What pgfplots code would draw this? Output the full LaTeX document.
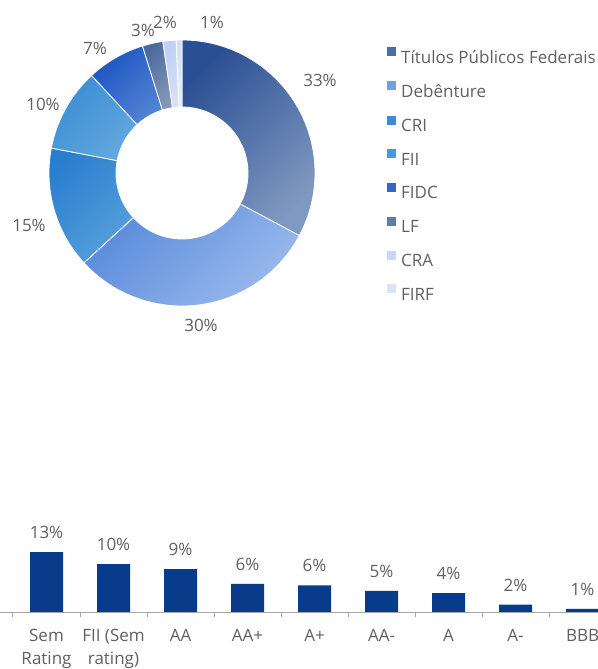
\documentclass[border=0pt]{standalone}
\usepackage{pgfplots}
\pgfplotsset{compat=1.18}
\usepackage{pgfplotstable}
\usepackage{fontspec}
\setmainfont{Open Sans}

\definecolor{txt}{HTML}{606060}
\definecolor{axgray}{HTML}{A6A6A6}
\definecolor{barblue}{HTML}{083B8A}
% donut slices: dark / light end of each gradient
\definecolor{c0a}{HTML}{2B4F94}\definecolor{c0b}{HTML}{8099C0}
\definecolor{c1a}{HTML}{5A8BDB}\definecolor{c1b}{HTML}{9ABAED}
\definecolor{c2a}{HTML}{2A7ECF}\definecolor{c2b}{HTML}{56A0DB}
\definecolor{c3a}{HTML}{3A8DD4}\definecolor{c3b}{HTML}{62A8DD}
\definecolor{c4a}{HTML}{1C55C2}\definecolor{c4b}{HTML}{5283D2}
\definecolor{c5a}{HTML}{4A6A9E}\definecolor{c5b}{HTML}{8496B5}
\definecolor{c6a}{HTML}{BFD0F3}\definecolor{c6b}{HTML}{D5E1F8}
\definecolor{c7a}{HTML}{D3DFF6}\definecolor{c7b}{HTML}{E3EBFA}
\colorlet{c0m}{c0a!60!c0b}\colorlet{c1m}{c1a!60!c1b}
\colorlet{c2m}{c2a!60!c2b}\colorlet{c3m}{c3a!60!c3b}
\colorlet{c4m}{c4a!60!c4b}\colorlet{c5m}{c5a!60!c5b}
\colorlet{c6m}{c6a!60!c6b}\colorlet{c7m}{c7a!60!c7b}

\newcommand\lblfont{\fontsize{17bp}{20bp}\selectfont}
\newcommand\tickfont{\fontsize{17bp}{23bp}\selectfont}

% share (%), label, label position
\pgfplotstableread{
val  lab lx  ly
32.8 33  320 589
30.4 30  201 344
14.8 15  29  444
10.1 10  43  565
7.1  7   95  621
2.5  3   143 639
1.6  2   165 647
0.7  1   212 647
}\donut

\begin{document}
\begin{tikzpicture}
\begin{axis}[
    at={(0bp,0bp)}, anchor=south west,
    scale only axis, x=1bp, y=1bp,
    xmin=0, xmax=598, ymin=0, ymax=669,
    hide axis, clip=false,
    legend style={at={(axis cs:387,622)}, anchor=north west, draw=none, fill=none,
        inner sep=0pt, row sep=16.4bp, column sep=5bp, font=\lblfont, text=txt,
        nodes={inner sep=0pt, anchor=west}},
    legend cell align=left,
    legend image code/.code={\fill[draw=none,#1] (0bp,1.5bp) rectangle (9bp,10.5bp);},
]
\def\cum{0}
\pgfplotsforeachungrouped \i in {0,...,7}{%
  \pgfplotstablegetelem{\i}{val}\of\donut \let\v\pgfplotsretval
  \pgfplotstablegetelem{\i}{lab}\of\donut \let\lab\pgfplotsretval
  \pgfplotstablegetelem{\i}{lx}\of\donut \let\lx\pgfplotsretval
  \pgfplotstablegetelem{\i}{ly}\of\donut \let\ly\pgfplotsretval
  \pgfmathsetmacro\a{90-3.6*\cum}
  \pgfmathsetmacro\cum{\cum+\v}
  \pgfmathsetmacro\b{90-3.6*\cum}
  \pgfmathsetmacro\xa{182+133*cos(\a)}\pgfmathsetmacro\ya{496+133*sin(\a)}
  \pgfmathsetmacro\xb{182+66*cos(\b)}\pgfmathsetmacro\yb{496+66*sin(\b)}
  \edef\temp{%
    \noexpand\shadedraw[draw=white, line width=0.8bp, top color=c\i a, bottom color=c\i b, shading angle=45]
      (axis cs:\xa,\ya) arc[start angle=\a, end angle=\b, radius=133bp]
      -- (axis cs:\xb,\yb) arc[start angle=\b, end angle=\a, radius=66bp] -- cycle;
    \noexpand\node[text=txt, font=\noexpand\lblfont] at (axis cs:\lx,\ly) {\lab\noexpand\%};
  }\temp
}
\addlegendimage{fill=c0m, draw=none}\addlegendentry{Títulos Públicos Federais}
\addlegendimage{fill=c1m, draw=none}\addlegendentry{Debênture}
\addlegendimage{fill=c2m, draw=none}\addlegendentry{CRI}
\addlegendimage{fill=c3m, draw=none}\addlegendentry{FII}
\addlegendimage{fill=c4m, draw=none}\addlegendentry{FIDC}
\addlegendimage{fill=c5m, draw=none}\addlegendentry{LF}
\addlegendimage{fill=c6m, draw=none}\addlegendentry{CRA}
\addlegendimage{fill=c7m, draw=none}\addlegendentry{FIRF}
\end{axis}

\begin{axis}[
    at={(0bp,57bp)}, anchor=south west,
    scale only axis, width=598bp, height=73.6bp,
    xmin=-0.694, xmax=8.231, ymin=0, ymax=16,
    ybar, bar width=33bp, bar shift=0pt,
    axis x line*=bottom, axis y line=none,
    x axis line style={axgray, line width=1bp, -},
    xtick={0,...,8},
    xticklabels={Sem\\Rating, FII (Sem\\rating), AA, AA+, A+, AA-, A, A-, BBB},
    major tick length=0pt,
    xticklabel style={font=\tickfont, text=txt, align=center, anchor=north, yshift=-14bp},
    extra x ticks={-0.5,0.5,...,7.5},
    extra x tick labels={},
    extra x tick style={major tick length=5bp, tick align=outside,
        tick style={axgray, line width=1bp}},
    /pgf/number format/assume math mode=true,
    nodes near coords={\pgfmathprintnumber[fixed,precision=0]{\pgfplotspointmeta}\%},
    every node near coord/.append style={font=\lblfont, text=txt, anchor=south,
        inner sep=0pt, yshift=13bp},
]
\addplot[fill=barblue, draw=none] coordinates {
    (0,13.0) (1,10.4) (2,9.3) (3,6.1) (4,5.8) (5,4.6) (6,4.1) (7,1.6) (8,0.7)
};
\end{axis}
\pgfresetboundingbox
\useasboundingbox (0,0) rectangle (598bp,669bp);
\end{tikzpicture}
\end{document}
